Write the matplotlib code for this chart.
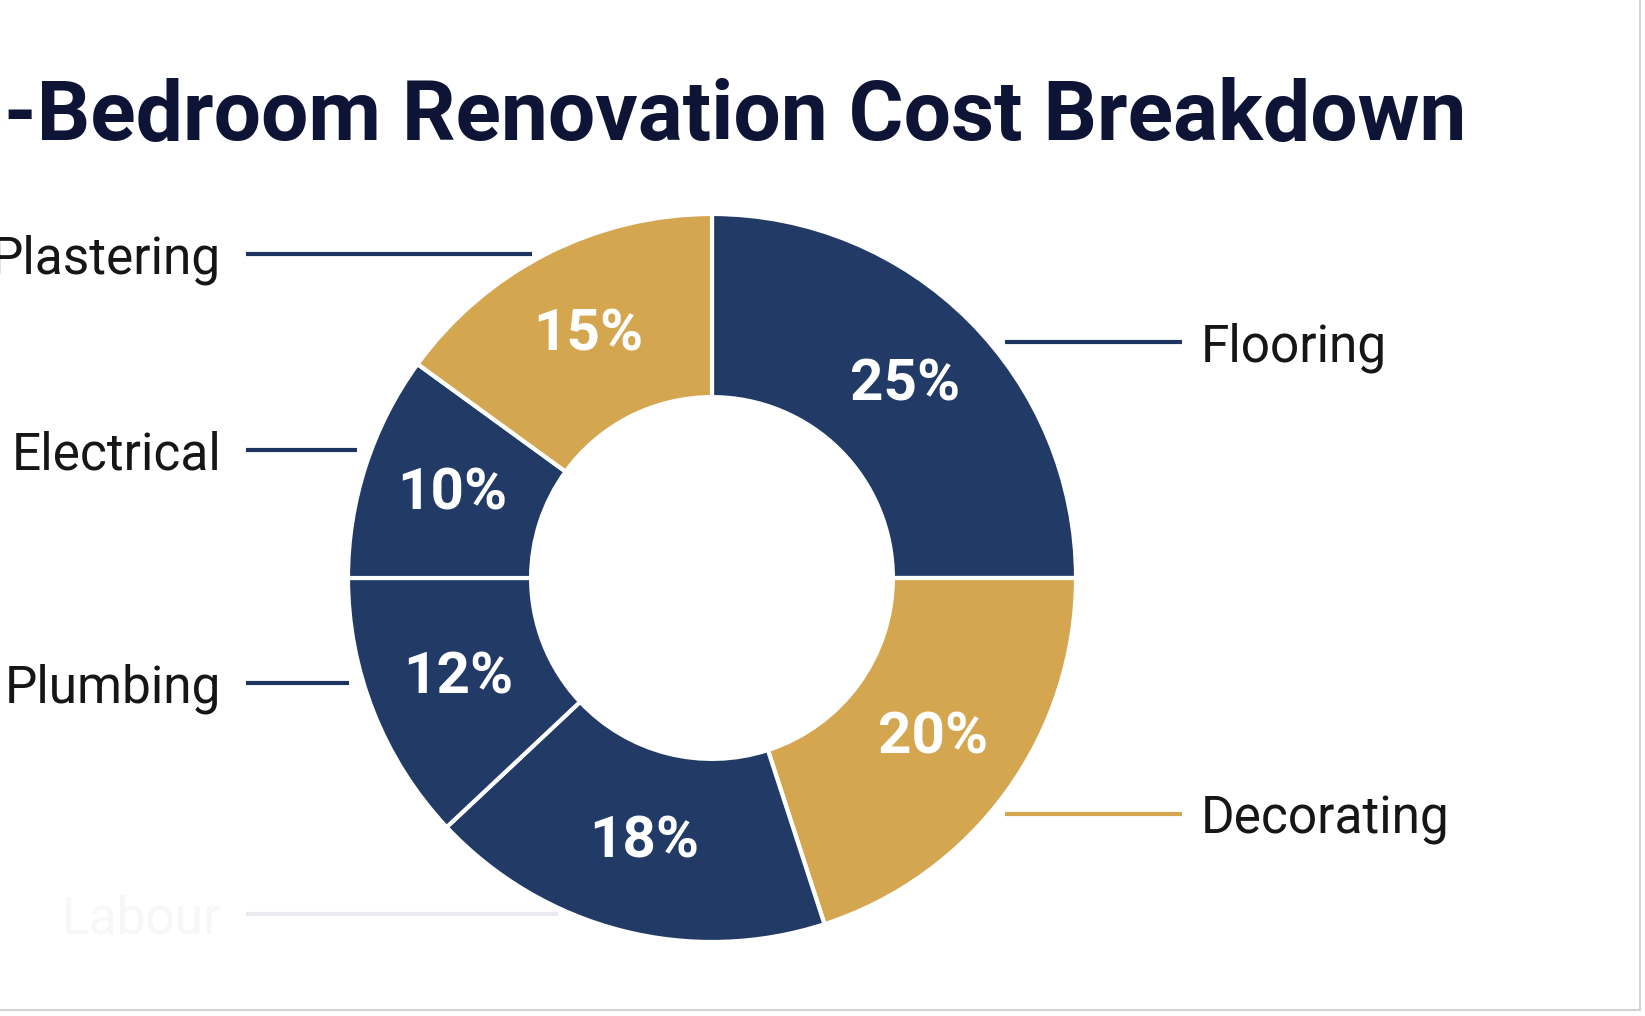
import numpy as np
import matplotlib
matplotlib.use('Agg')
import matplotlib.pyplot as plt

plt.rcParams['font.family'] = ['Roboto', 'DejaVu Sans']

# data, clockwise from 12 o'clock
categories = ['Flooring', 'Decorating', 'Labour', 'Plumbing', 'Electrical', 'Plastering']
shares = [25, 20, 18, 12, 10, 15]
sliceColors = ['#213a66', '#d4a650', '#213a66', '#213a66', '#213a66', '#d4a650']

# label layout (pixel rows of the leader lines, side of the chart)
labelRows = [342, 814, 914, 683, 450, 254]
labelSides = ['right', 'right', 'left', 'left', 'left', 'left']
lineColors = ['#1f3561', '#d4a650', '#e9ebf0', '#1f3561', '#1f3561', '#1f3561']
textColors = ['#161616', '#161616', '#f6f7f9', '#161616', '#161616', '#161616']

W, H = 1645, 1016
cx, cy, R = 712, 578, 364

fig = plt.figure(figsize=(W / 100, H / 100), dpi=100)
fig.patch.set_facecolor('white')

ax = fig.add_axes([(cx - R) / W, 1 - (cy + R) / H, 2 * R / W, 2 * R / H])
wedges, texts, autotexts = ax.pie(
    shares, colors=sliceColors, startangle=90, counterclock=False,
    radius=1, autopct='%d%%', pctdistance=0.75,
    wedgeprops=dict(width=0.503, edgecolor='white', linewidth=3),
    textprops=dict(color='white', fontsize=42, fontweight='bold'))
ax.set_xlim(-1, 1)
ax.set_ylim(-1, 1)
ax.set_aspect('equal')

# overlay in pixel coordinates for leader lines and names
ov = fig.add_axes([0, 0, 1, 1])
ov.set_xlim(0, W)
ov.set_ylim(H, 0)
ov.axis('off')

for name, row, side, lc, tc in zip(categories, labelRows, labelSides, lineColors, textColors):
    dy = abs(row - cy)
    edge = np.sqrt(max(R ** 2 - dy ** 2, 0))
    if side == 'right':
        x0, x1 = cx + edge + 16, 1182
        ov.plot([x0, x1], [row, row], color=lc, lw=3, solid_capstyle='butt')
        ov.text(1201, row, name, fontsize=37, color=tc, ha='left', va='center_baseline')
    else:
        x0, x1 = 246, cx - edge - 14
        ov.plot([x0, x1], [row, row], color=lc, lw=3, solid_capstyle='butt')
        ov.text(221, row, name, fontsize=37, color=tc, ha='right', va='center_baseline')

ov.text(1466, 140, '3-Bedroom Renovation Cost Breakdown', fontsize=60.5,
        fontweight='bold', color='#0d1436', ha='right', va='baseline')

# thin frame on the right and bottom
ov.plot([1640, 1640], [0, 1010], color='#cfd1d6', lw=1.5)
ov.plot([0, 1640], [1010, 1010], color='#cfd1d6', lw=1.5)

fig.savefig('out.png', dpi=100, facecolor='white')
